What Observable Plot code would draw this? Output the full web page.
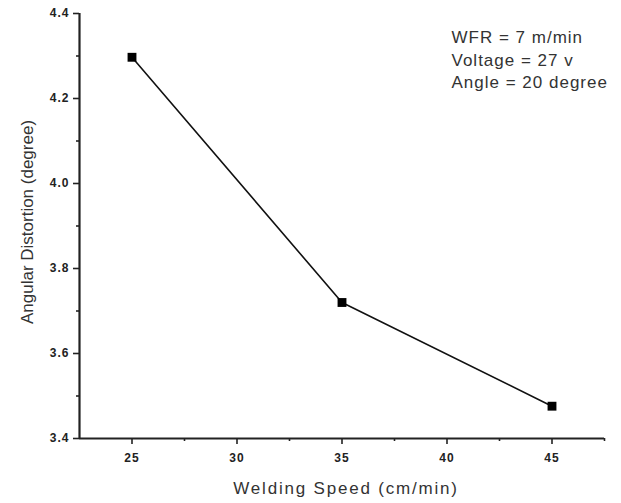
<!DOCTYPE html>
<html>
<head>
<meta charset="utf-8">
<script src="https://cdn.jsdelivr.net/npm/d3@7"></script>
<script src="https://cdn.jsdelivr.net/npm/@observablehq/plot@0.6"></script>
<style>
  html, body { margin: 0; padding: 0; background: #fff; }
</style>
</head>
<body>
<div id="chart"></div>
<script>
const speeds = [25, 35, 45];
const distortion = [4.297, 3.72, 3.476];
const xTicks = [25, 30, 35, 40, 45];
const xMinorTicks = [27.5, 32.5, 37.5, 42.5, 47.5];
const yTicks = [3.4, 3.6, 3.8, 4.0, 4.2, 4.4];
const yMinorTicks = [3.5, 3.7, 3.9, 4.1, 4.3];
const xLabel = "Welding Speed (cm/min)";
const yLabel = "Angular Distortion (degree)";
const notes = ["WFR = 7 m/min", "Voltage = 27 v", "Angle = 20 degree"];

const data = speeds.map((s, i) => ({speed: s, dist: distortion[i]}));
const ink = "#222";

const chart = Plot.plot({
  width: 621,
  height: 503,
  marginLeft: 79,
  marginRight: 17,
  marginTop: 13,
  marginBottom: 65,
  style: {fontFamily: "'Liberation Sans', Arial, sans-serif", color: ink, background: "#fff"},
  x: {domain: [22.5, 47.5]},
  y: {domain: [3.4, 4.4]},
  marks: [
    Plot.axisX({ticks: xTicks, tickSize: 6, tickPadding: 9, tickFormat: d => String(d), fontWeight: "bold", fontSize: 12, label: null, stroke: ink, strokeWidth: 1.6}),
    Plot.axisX({ticks: xMinorTicks, tickSize: 3, tickFormat: () => "", label: null, stroke: ink, strokeWidth: 1.6}),
    Plot.axisY({ticks: yTicks, tickSize: 6, tickPadding: 4, tickFormat: d3.format(".1f"), fontWeight: "bold", fontSize: 12, label: null, stroke: ink, strokeWidth: 1.6}),
    Plot.axisY({ticks: yMinorTicks, tickSize: 3, tickFormat: () => "", label: null, stroke: ink, strokeWidth: 1.6}),
    Plot.ruleY([3.4], {stroke: ink, strokeWidth: 2.2}),
    Plot.ruleX([22.5], {stroke: ink, strokeWidth: 2.2}),
    Plot.line(data, {x: "speed", y: "dist", stroke: "#111", strokeWidth: 1.6}),
    Plot.dot(data, {x: "speed", y: "dist", symbol: "square", fill: "#000", stroke: "none", r: 5}),
    Plot.text([xLabel], {frameAnchor: "bottom", textAnchor: "middle", dy: 55, dx: 4, fontSize: 17, fill: "#333", className: "xlab"}),
    Plot.text([yLabel], {frameAnchor: "left", textAnchor: "middle", lineAnchor: "middle", rotate: -90, dx: -52, dy: -4, fontSize: 17, fill: "#333"}),
    Plot.text([notes.join("\n")], {frameAnchor: "top-right", textAnchor: "start", lineAnchor: "top", dx: -153, dy: 14, fontSize: 17, lineHeight: 1.32, fill: "#333", className: "notes"})
  ]
});

d3.select(chart).selectAll("[aria-label='x-axis tick label'] text, [aria-label='y-axis tick label'] text").style("letter-spacing", "1px");
d3.select(chart).selectAll(".xlab text").style("letter-spacing", "1.8px");
d3.select(chart).selectAll(".notes text").style("letter-spacing", "1px");

document.getElementById("chart").appendChild(chart);
</script>
</body>
</html>
